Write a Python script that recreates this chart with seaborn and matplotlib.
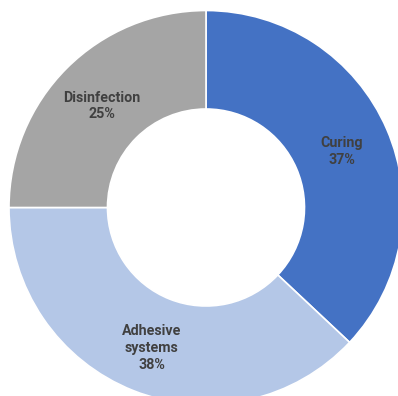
import matplotlib
matplotlib.use("Agg")
import matplotlib.pyplot as plt
import matplotlib.transforms as mtransforms
import seaborn as sns

categories = ["Curing", "Adhesive\nsystems", "Disinfection"]
shares = [37, 38, 25]
colors = ["#4472C4", "#B4C7E7", "#A5A5A5"]

sns.set_theme(style="white")
plt.rcParams["font.family"] = ["Roboto", "DejaVu Sans"]
palette = sns.color_palette(colors)

W, H, DPI = 398, 396, 100
fig = plt.figure(figsize=(W / DPI, H / DPI), dpi=DPI)
ax = fig.add_axes([0, 0, 1, 1])

labels = [f"{c}\n{v}%" for c, v in zip(categories, shares)]
wedges, texts = ax.pie(
    shares,
    labels=labels,
    colors=palette,
    startangle=90,
    counterclock=False,
    radius=1.0,
    labeldistance=0.75,
    wedgeprops=dict(width=0.5, edgecolor="white", linewidth=1.2),
    textprops=dict(fontsize=10.3, fontweight="bold", color="#404040",
                   linespacing=1.25),
)
# labels sit a touch below their radial anchor
shift = mtransforms.ScaledTranslation(0, -3 / DPI, fig.dpi_scale_trans)
for t in texts:
    t.set_horizontalalignment("center")
    t.set_verticalalignment("center")
    t.set_multialignment("center")
    t.set_transform(t.get_transform() + shift)

# centre of the ring in pixels and its outer radius
cx, cy, r = 206.0, 207.5, 197.0
ax.set_xlim(-cx / r, (W - cx) / r)
ax.set_ylim(-(H - cy) / r, cy / r)
ax.set_aspect("auto")
ax.axis("off")

fig.savefig("out.png", dpi=DPI, facecolor="white")
